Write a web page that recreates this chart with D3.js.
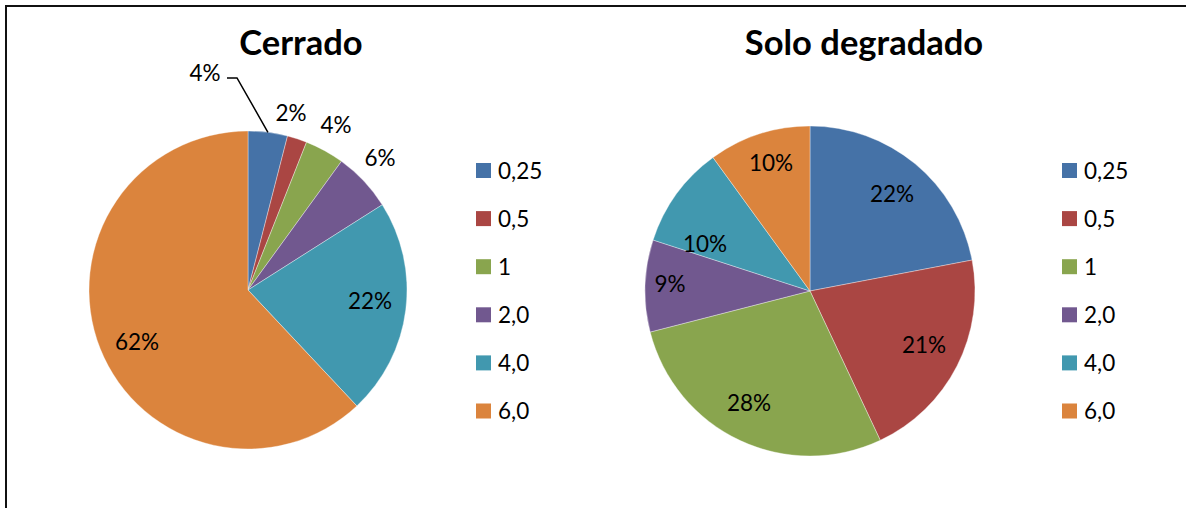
<!DOCTYPE html>
<html>
<head>
<meta charset="utf-8">
<script src="https://cdn.jsdelivr.net/npm/d3@7"></script>
<style>
  html, body { margin: 0; padding: 0; background: #fff; }
  svg { display: block; }
  text { font-family: Lato, "Open Sans", sans-serif; fill: #000; }
</style>
</head>
<body>
<svg id="chart" width="1186" height="508"></svg>
<script>
// Soil particle-size classes (mm)
const categories = ["0,25", "0,5", "1", "2,0", "4,0", "6,0"];
// Share of each class, in percent
const cerradoValues = [4, 2, 4, 6, 22, 62];
const degradadoValues = [22, 21, 28, 9, 10, 10];
const titles = ["Cerrado", "Solo degradado"];

const colors = ["#4572A7", "#AA4643", "#89A54E", "#71588F", "#4198AF", "#DB843D"];

const svg = d3.select("#chart");

// Frame (only top and left edges are within view)
svg.append("path")
  .attr("d", "M6,508 L6,6 L1186,6")
  .attr("fill", "none")
  .attr("stroke", "#111")
  .attr("stroke-width", 2);

const color = d3.scaleOrdinal().domain(categories).range(colors);
const pie = d3.pie().sort(null).value(d => d.value);

// Label placement: offsets of label centres from pie centre, in px
const layouts = [
  {
    cx: 248, cy: 290, r: 159, titleX: 301,
    legendX: 476,
    labelOffsets: [[-43, -217], [43, -177], [88, -165], [132, -132], [122, 11], [-111, 52]],
    leader: [0]
  },
  {
    cx: 810, cy: 291, r: 165, titleX: 864,
    legendX: 1062,
    labelOffsets: [[82, -97], [114, 54], [-61, 112], [-140, -7], [-105, -47], [-39, -128]],
    leader: []
  }
];

function drawPie(values, title, L) {
  const data = categories.map((c, i) => ({ cat: c, value: values[i] }));
  const arcs = pie(data);
  const arc = d3.arc().innerRadius(0).outerRadius(L.r);
  const g = svg.append("g").attr("transform", `translate(${L.cx},${L.cy})`);

  g.selectAll("path.slice")
    .data(arcs)
    .join("path")
    .attr("class", "slice")
    .attr("d", arc)
    .attr("fill", d => color(d.data.cat))
    .attr("stroke", "#fff")
    .attr("stroke-width", 0.6)
    .attr("stroke-opacity", 0.6);

  // Percentage labels
  g.selectAll("text.lbl")
    .data(arcs)
    .join("text")
    .attr("class", "lbl")
    .attr("x", (d, i) => L.labelOffsets[i][0])
    .attr("y", (d, i) => L.labelOffsets[i][1])
    .attr("dy", "0.36em")
    .attr("text-anchor", "middle")
    .style("font-size", "22.5px")
    .text(d => d3.format(".0f")(d.value) + "%");

  // Leader lines for labels placed outside a thin slice
  L.leader.forEach(i => {
    const a = arcs[i];
    const mid = (a.startAngle + a.endAngle) / 2;
    const ex = Math.sin(mid) * L.r, ey = -Math.cos(mid) * L.r;
    const [lx, ly] = L.labelOffsets[i];
    const sx = lx + 22, sy = ly + 5;
    g.append("path")
      .attr("d", `M${sx},${sy} L${sx + 10},${sy} L${ex},${ey}`)
      .attr("fill", "none")
      .attr("stroke", "#000")
      .attr("stroke-width", 1.5);
  });

  // Title
  svg.append("text")
    .attr("x", L.titleX)
    .attr("y", 55)
    .attr("text-anchor", "middle")
    .style("font-size", "34.5px")
    .style("font-weight", "bold")
    .text(title);

  // Legend
  const leg = svg.append("g").attr("transform", `translate(${L.legendX},0)`);
  const rowY = d3.scalePoint().domain(categories).range([170.5, 411]);
  const rows = leg.selectAll("g.row").data(categories).join("g")
    .attr("class", "row")
    .attr("transform", d => `translate(0,${rowY(d)})`);
  rows.append("rect")
    .attr("x", 0).attr("y", -7.5)
    .attr("width", 15).attr("height", 15)
    .attr("fill", d => color(d));
  rows.append("text")
    .attr("x", 22)
    .attr("y", 8)
    .style("font-size", "22.5px")
    .text(d => d);
}

drawPie(cerradoValues, titles[0], layouts[0]);
drawPie(degradadoValues, titles[1], layouts[1]);
</script>
</body>
</html>
